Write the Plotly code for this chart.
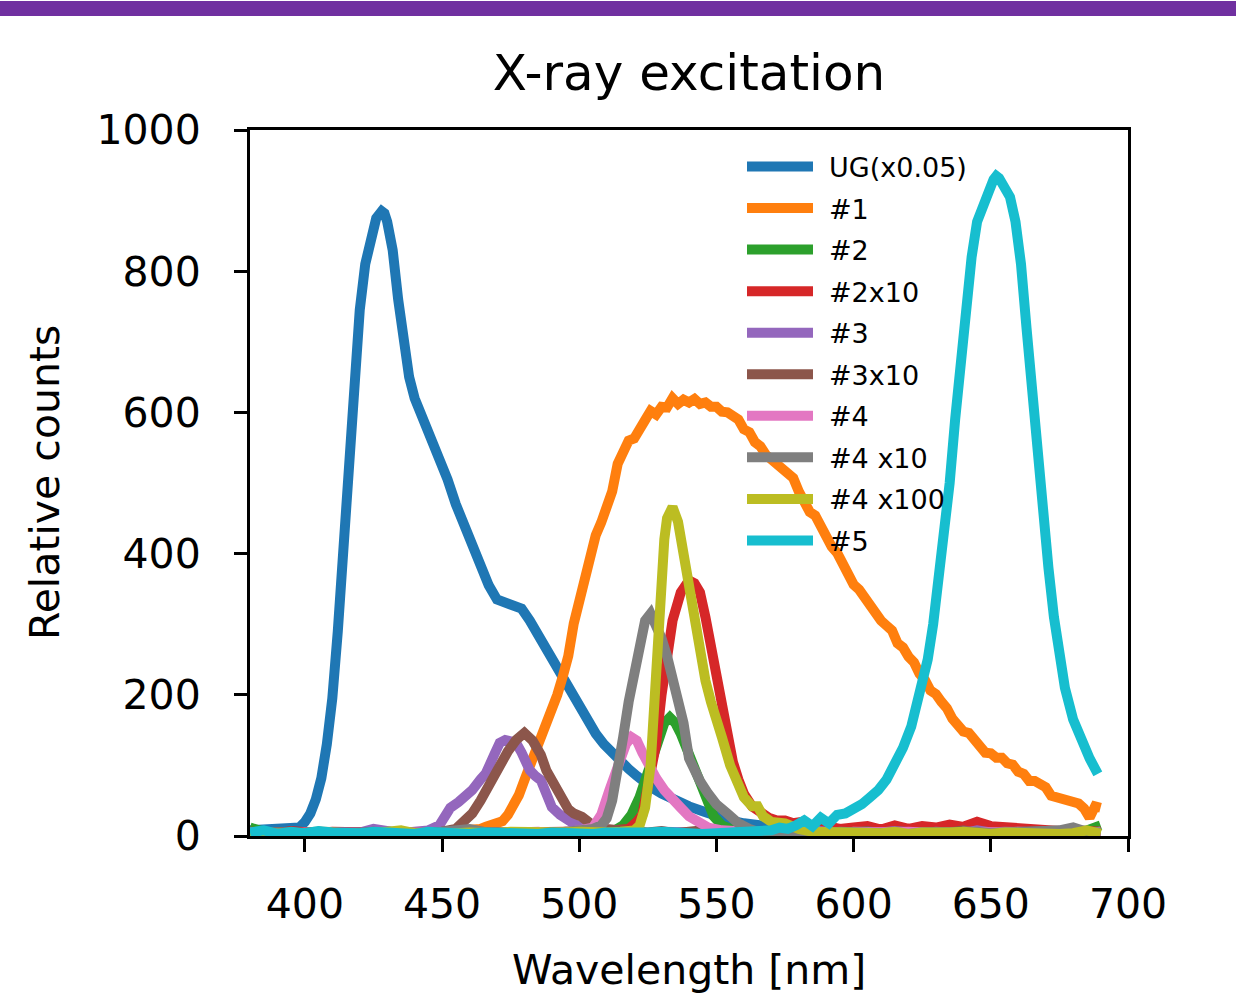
import plotly.graph_objects as go

# ---------------- data ----------------
names = ["UG(x0.05)", "#1", "#2", "#2x10", "#3", "#3x10", "#4", "#4 x10", "#4 x100", "#5"]
colors = ["#1f77b4", "#ff7f0e", "#2ca02c", "#d62728", "#9467bd",
          "#8c564b", "#e377c2", "#7f7f7f", "#bcbd22", "#17becf"]

ug_x = [380,383,386,389,392,395,398,400,402,404,406,408,410,412,414,416,418,420,422,424,426,428,429,430,432,434,436,438,440,443,446,449,452,455,458,461,464,467,470,473,476,479,482,485,488,491,494,497,500,503,506,509,512,515,518,521,524,527,530,535,540,545,550,555,560,565,570,580,590,600,620,640,660,690]
ug_y = [8,9,10,9,10,11,12,20,32,52,82,130,195,290,400,530,650,745,810,850,875,885,882,870,830,760,700,650,620,592,565,538,505,470,440,410,385,355,335,330,328,322,305,285,265,245,220,200,180,162,145,130,117,105,95,85,75,67,60,50,42,35,28,22,18,15,12,8,6,5,4,4,3,3]

s1_x = [380,385,390,395,400,405,410,415,420,425,430,435,440,445,450,455] + list(range(460, 692, 2))
s1_y = [5,4,6,5,4,6,5,4,5,6,5,4,6,5,6,7,
        8,10,10,13,16,20,21,30,42,58,
        79,98,117,137,154,181,200,226,255,301,
        334,371,397,426,444,470,488,527,544,560,
        563,580,589,602,597,608,607,620,612,618,
        614,619,612,614,608,608,601,600,593,590,
        576,572,558,552,540,533,524,519,512,507,
        488,473,459,454,437,426,410,401,386,373,
        356,349,338,328,313,305,298,291,273,267,
        254,246,230,221,206,201,190,181,166,159,
        148,146,136,128,118,117,111,111,103,101,
        91,88,78,78,72,69,57,55,51,50,
        46,46,39,26,42,40]

s2_x = [380,385,390,395,400,405,410,415,420,425,430,435,440,445,450,455,460,465,470,475,480,485,490,495,500,505,510,
        513,516,519,522,525,528,531,533,535,537,540,543,546,549,552,555,560,
        565,570,575,580,585,590,595,600,605,610,615,620,625,630,635,640,645,650,655,660,665,670,675,680,685,690]
s2_y = [12,6,4,5,3,6,4,5,3,4,6,5,4,3,5,4,6,5,3,4,5,6,4,5,3,5,6,
        8,15,30,55,90,130,160,168,160,145,115,80,50,28,15,10,7,
        5,4,6,5,4,6,5,3,5,4,6,5,4,5,3,6,5,4,5,6,4,5,3,5,8,15]

s3_x = [380,385,390,395,400,405,410,415,420,425,430,435,440,445,450,455,460,465,470,475,480,485,490,495,500,505,510,515,
        518,521,523,525,528,530,532,534,537,540,542,544,546,548,550,552,554,556,558,560,563,566,569,572,575,578,581,584,587,590,
        595,600,605,610,615,620,625,630,635,640,645,650,655,660,665,670,675,680,685,690]
s3_y = [6,5,4,7,5,4,6,5,4,5,6,4,5,3,5,4,6,5,4,5,6,4,5,6,4,5,6,7,
        10,20,30,70,130,200,260,305,345,362,358,345,310,270,230,180,140,105,80,60,42,32,26,22,22,18,20,14,12,14,
        10,12,14,9,15,10,14,12,16,13,20,14,12,10,8,9,7,8,6,6]

s4_x = [380,385,390,395,400,405,410,415,420,425,430,435,440,445,
        449,451,453,456,459,461,464,466,469,471,473,475,477,479,482,484,486,488,490,493,496,499,502,
        505,510,515,520,525,530,535,540,545,550,555,560,565,570,575,580,585,590,595,600,605,610,615,620,625,630,635,640,645,650,655,660,665,670,675,680,685,690]
s4_y = [5,4,6,5,3,5,4,6,5,10,8,4,6,8,
        15,27,40,48,58,65,80,89,115,132,136,135,132,118,93,85,79,60,41,30,22,15,12,
        8,6,5,7,4,6,5,4,6,5,4,7,5,6,4,5,8,6,5,4,6,5,7,5,4,6,5,4,8,5,6,4,5,6,4,5,3,4]

s5_x = [380,385,390,395,400,405,410,415,420,425,430,435,440,445,450,455,
        458,461,464,468,471,474,477,480,483,486,488,491,493,496,498,501,504,
        510,515,520,525,530,535,540,545,550,555,560,565,570,575,580,585,590,595,600,605,610,615,620,625,630,635,640,645,650,655,660,665,670,675,680,685,690]
s5_y = [4,5,3,6,4,5,4,3,5,6,4,5,3,5,6,10,
        20,32,50,79,100,120,136,146,135,115,93,70,55,38,32,27,18,
        10,8,6,5,7,4,6,8,5,4,6,5,7,4,6,5,4,6,5,7,4,6,5,4,6,5,8,4,5,6,4,5,7,5,4,6,5]

s6_x = [380,385,390,395,400,405,410,415,420,425,430,435,440,445,450,455,460,465,470,475,480,485,490,495,500,
        505,508,511,514,517,519,521,523,525,528,531,534,537,540,543,547,552,
        560,565,570,575,580,585,590,595,600,605,610,615,620,625,630,635,640,645,650,655,660,665,670,675,680,685,690]
s6_y = [5,4,6,3,5,4,6,5,4,3,5,6,4,5,3,4,6,5,4,5,3,6,4,5,8,
        12,30,65,100,130,140,135,118,102,82,65,50,40,28,20,12,8,
        6,5,4,6,5,3,5,4,6,5,4,5,6,4,5,3,6,5,4,5,6,4,5,7,5,4,6]

s7_x = [380,385,390,395,400,405,410,415,420,425,430,435,440,445,450,455,460,465,470,475,480,485,490,495,500,505,
        508,510,512,514,516,518,520,522,524,526,528,530,532,534,536,538,540,542,544,547,550,554,558,562,
        565,570,575,580,585,590,595,600,605,610,615,620,625,630,635,640,645,650,655,660,665,670,675,680,685,690]
s7_y = [5,6,4,5,3,6,5,4,6,5,4,6,5,3,6,8,10,6,5,4,6,5,4,6,8,10,
        15,25,50,90,140,190,235,270,305,315,300,280,255,225,195,160,110,90,78,60,45,32,18,10,
        6,5,4,6,5,4,6,5,4,6,5,3,5,6,4,5,6,4,5,6,4,5,8,12,6,5]

s8_x = [380,385,390,395,400,405,410,415,420,425,430,435,440,445,450,455,460,465,470,475,480,485,490,495,500,505,510,515,520,
        522,524,526,527,528,529,530,531,532,534,536,538,540,542,544,546,548,550,552,555,557,560,563,565,567,570,575,580,
        585,590,595,600,605,610,615,620,625,630,635,640,645,650,655,660,665,670,675,680,685,690]
s8_y = [4,3,5,4,3,6,4,5,3,4,5,8,4,3,5,4,5,3,4,6,5,4,3,5,6,4,5,6,8,
        15,40,100,170,250,320,380,420,450,466,445,400,350,300,260,220,190,160,140,100,84,55,42,42,28,20,18,10,
        6,5,4,3,5,4,6,3,5,4,5,6,4,3,5,4,6,5,3,4,8,3]

s9_x = [380,385,390,395,400,405,410,415,420,425,430,435,440,445,450,455,460,465,470,475,480,485,490,495,500,505,510,515,520,525,530,535,540,545,550,555,560,565,
        570,573,576,579,582,585,588,591,594,597,600,603,606,609,612,615,618,621,624,627,
        629,631,633,635,637,639,641,643,645,647,649,651,652,653,655,657,659,661,663,665,
        667,669,671,673,675,677,680,683,686,689]
s9_y = [5,8,3,6,4,7,5,3,4,6,4,5,3,6,4,5,3,5,4,6,4,3,5,4,6,3,5,4,3,5,6,4,5,3,4,5,6,4,
        8,12,10,15,22,14,26,18,30,32,38,45,55,65,80,100,125,155,200,250,
        300,360,420,500,590,680,760,820,870,895,910,930,935,932,920,905,870,810,720,630,
        530,450,380,310,255,210,165,135,110,88]

series_x = [ug_x, s1_x, s2_x, s3_x, s4_x, s5_x, s6_x, s7_x, s8_x, s9_x]
series_y = [ug_y, s1_y, s2_y, s3_y, s4_y, s5_y, s6_y, s7_y, s8_y, s9_y]

x_ticks = [400, 450, 500, 550, 600, 650, 700]
y_ticks = [0, 200, 400, 600, 800, 1000]

# ---------------- figure ----------------
W, H = 1236, 1000
L, R, T, B = 250, 108, 130, 164
PW, PH = W - L - R, H - T - B
FONT = "DejaVu Sans"
LW = 10

def px2paper(px, py):
    return (px - L) / PW, (H - B - py) / PH

fig = go.Figure()
for nm, c, xs, ys in zip(names, colors, series_x, series_y):
    fig.add_trace(go.Scatter(x=xs, y=ys, mode="lines", name=nm,
                             line=dict(color=c, width=LW), showlegend=False))

shapes = []
annotations = []
# purple banner at the top of the page
x0, _ = px2paper(0, 0)
x1, _ = px2paper(W, 0)
_, ya = px2paper(0, 1)
_, yb = px2paper(0, 16)
shapes.append(dict(type="rect", xref="paper", yref="paper", x0=x0, x1=x1, y0=yb, y1=ya,
                   fillcolor="#7030a0", line=dict(width=0), layer="above"))

# manual legend (frameless, like the reference)
for i, (nm, c) in enumerate(zip(names, colors)):
    ypx = 166.5 + i * 41.55
    lx0, ly = px2paper(747, ypx)
    lx1, _ = px2paper(813, ypx)
    shapes.append(dict(type="line", xref="paper", yref="paper", x0=lx0, x1=lx1, y0=ly, y1=ly,
                       line=dict(color=c, width=LW), layer="above"))
    tx, ty = px2paper(827, ypx + 1)
    annotations.append(dict(xref="paper", yref="paper", x=tx, y=ty, text=nm, showarrow=False,
                            xanchor="left", yanchor="middle",
                            font=dict(family=FONT, size=27, color="black")))

# axis titles
ax, ay = px2paper(689, 970)
annotations.append(dict(xref="paper", yref="paper", x=ax, y=ay, text="Wavelength [nm]", showarrow=False,
                        xanchor="center", yanchor="middle", font=dict(family=FONT, size=41, color="black")))
bx, by = px2paper(45, 483)
annotations.append(dict(xref="paper", yref="paper", x=bx, y=by, text="Relative counts", showarrow=False,
                        textangle=-90, xanchor="center", yanchor="middle",
                        font=dict(family=FONT, size=41, color="black")))

fig.update_layout(
    width=W, height=H,
    margin=dict(l=L, r=R, t=T, b=B),
    paper_bgcolor="white", plot_bgcolor="white",
    font=dict(family=FONT, color="black"),
    title=dict(text="X-ray excitation", x=0.5, xref="paper", y=1 - 72 / H, yref="container",
               xanchor="center", yanchor="middle", font=dict(family=FONT, size=50, color="black")),
    shapes=shapes, annotations=annotations,
    showlegend=False,
)
fig.update_xaxes(range=[380, 700], tickvals=x_ticks, ticktext=[str(v) for v in x_ticks],
                 showgrid=False, zeroline=False, showline=True, mirror=True,
                 linecolor="black", linewidth=3, ticks="outside", ticklen=13, tickwidth=3,
                 tickcolor="black", tickfont=dict(family=FONT, size=41, color="black"),
                 ticklabelstandoff=17)
fig.update_yaxes(range=[0, 1000], tickvals=y_ticks, ticktext=[str(v) for v in y_ticks],
                 showgrid=False, zeroline=False, showline=True, mirror=True,
                 linecolor="black", linewidth=3, ticks="outside", ticklen=13, tickwidth=3,
                 tickcolor="black", tickfont=dict(family=FONT, size=41, color="black"),
                 ticklabelstandoff=25)

fig.write_html("out.html", config={"displayModeBar": False},
               post_script="document.body.style.margin='0';document.body.style.padding='0';"
                           "document.body.style.overflow='hidden';")
